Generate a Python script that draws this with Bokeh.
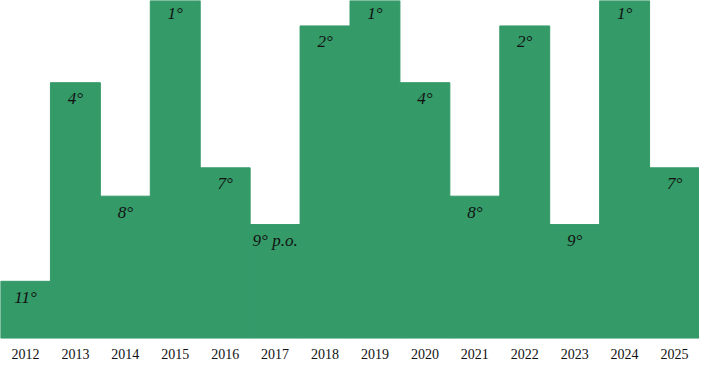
from bokeh.plotting import figure
from bokeh.models import ColumnDataSource, Range1d
from bokeh.core.properties import value
from bokeh.embed import file_html
from bokeh.resources import INLINE

years = ["2012", "2013", "2014", "2015", "2016", "2017", "2018",
         "2019", "2020", "2021", "2022", "2023", "2024", "2025"]
ranks = [11, 4, 8, 1, 7, 9, 2, 1, 4, 8, 2, 9, 1, 7]
rank_labels = ["11°", "4°", "8°", "1°", "7°", "9° p.o.", "2°",
               "1°", "4°", "8°", "2°", "9°", "1°", "7°"]

GREEN = "#349a68"
N_TEAMS = 13  # bar height = N_TEAMS - rank

xs = [i + 0.5 for i in range(len(years))]
heights = [N_TEAMS - r for r in ranks]

src = ColumnDataSource(dict(x=xs, top=heights, lab=rank_labels, year=years,
                            ybase=[0] * len(years)))

W, H = 699, 363
y_top = 345 / 29.0
y_bot = -(371 - 345) / 29.0

p = figure(width=W, height=H, output_backend="svg", toolbar_location=None,
           x_range=Range1d(0, len(years)), y_range=Range1d(y_bot, y_top),
           min_border=0, outline_line_color=None)
p.axis.visible = False
p.grid.visible = False
p.background_fill_color = "white"
p.border_fill_color = "white"

p.vbar(x="x", top="top", bottom=0, width=1, source=src,
       fill_color=GREEN, line_color=GREEN, line_width=1)

p.text(x="x", y="top", text="lab", source=src, text_align="center",
       text_baseline="alphabetic", y_offset=16,
       text_font=value("Liberation Serif"), text_font_style="italic",
       text_font_size="17px", text_color="#111111")

p.text(x="x", y="ybase", text="year", source=src, text_align="center",
       text_baseline="alphabetic", y_offset=16,
       text_font=value("Liberation Serif"), text_font_size="14px",
       text_color="#111111")

open("out.html", "w").write(file_html(p, INLINE))
